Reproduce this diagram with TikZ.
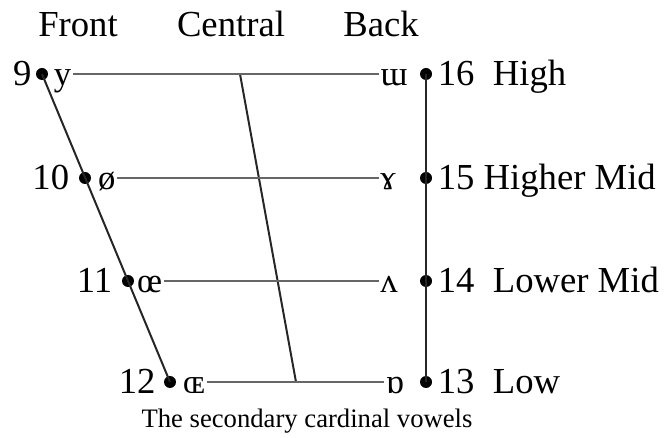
\documentclass[tikz,border=0pt]{standalone}
\usepackage{fontspec}
\setmainfont{Liberation Serif}
\usepackage{tikz}
\usetikzlibrary{positioning}

\begin{document}
\begin{tikzpicture}[x=0.75pt, y=-0.75pt,
    dot/.style={circle, fill=black, inner sep=0pt, minimum size=9pt},
    num/.style={inner sep=1pt, text height=18pt, text depth=0pt, font=\fontsize{27.5}{32}\selectfont},
    vowel/.style={inner sep=1pt, text height=18pt, text depth=0pt, font=\fontsize{26}{30}\selectfont},
    rule/.style={draw=black!60, line width=1.5pt},
    edge/.style={draw=black!85, line width=1.5pt}]
\useasboundingbox (0,0) rectangle (668,438);

% Column headings
\node[num, anchor=base] (front) at (78,37) {Front};
\node[num, anchor=base] (central) at (231,37) {Central};
\node[num, anchor=base] (back) at (381,37) {Back};

% Front vowels
\node[dot] (d9) at (42,74) {};
\node[dot] (d10) at (85,178) {};
\node[dot] (d11) at (128,281) {};
\node[dot] (d12) at (170,382) {};
\node[num, left=2pt of d9] (n9) {9};
\node[num, left=6pt of d10] (n10) {10};
\node[num, left=6pt of d11] (n11) {11};
\node[num, left=5pt of d12] (n12) {12};
\node[vowel, right=3pt of d9] (v9) {y};
\node[vowel, right=4pt of d10] (v10) {ø};
\node[vowel, right=1pt of d11] (v11) {œ};
\node[vowel, right=4pt of d12] (v12) {ɶ};

% Back vowels
\node[dot] (d16) at (426,74) {};
\node[dot] (d15) at (426,178) {};
\node[dot] (d14) at (426,281) {};
\node[dot] (d13) at (426,382) {};
\node[vowel] (v16) at (394,74) {ɯ};
\node[vowel] (v15) at (388,178) {ɤ};
\node[vowel] (v14) at (389,281) {ʌ};
\node[vowel] (v13) at (395,382) {ɒ};
\node[num, right=3pt of d16, anchor=west] (h16) {16\ \ High};
\node[num, right=3pt of d15, anchor=west] (h15) {15 Higher Mid};
\node[num, right=3pt of d14, anchor=west] (h14) {14\ \ Lower Mid};
\node[num, right=3pt of d13, anchor=west] (h13) {13\ \ Low};

% Outline of the chart
\draw[edge] (d9.center) -- (d12.center);
\draw[edge] (d16.center) -- (d13.center);
\coordinate (ctop) at (240,74);
\coordinate (cbot) at (296,382);
\draw[edge] (ctop) -- (cbot);

% Height lines
\draw[rule] (v9.east) -- (v16.west);
\draw[rule] (v10.east) -- (v15.west);
\draw[rule] (v11.east) -- (v14.west);
\draw[rule] (v12.east) -- (v13.west);

% Caption
\node[font=\fontsize{20}{24}\selectfont] (caption) at (307,421) {The secondary cardinal vowels};
\end{tikzpicture}
\end{document}
